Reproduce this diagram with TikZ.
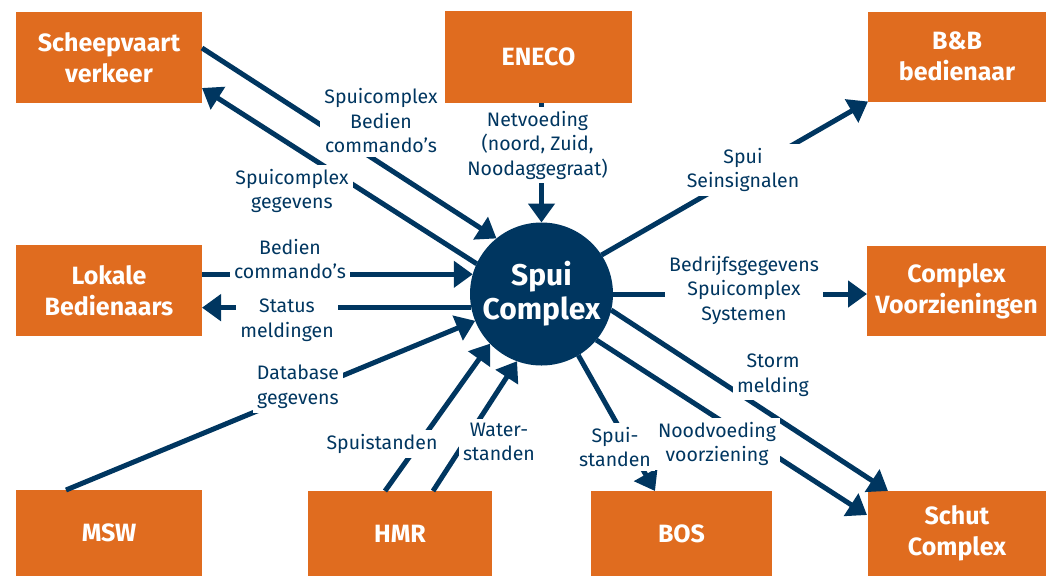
\documentclass[tikz,border=0pt]{standalone}
\usepackage{fontspec}
\setmainfont{Fira Sans}
\usetikzlibrary{arrows.meta,calc}
\definecolor{orng}{HTML}{E06C1F}
\definecolor{navy}{HTML}{003660}
\begin{document}
\begin{tikzpicture}[x=1pt,y=-1pt,
  box/.style={fill=orng, text=white, font=\fontsize{25}{31}\selectfont\bfseries, align=center, inner sep=0pt, outer sep=0pt},
  lbl/.style={fill=white, text=navy, font=\fontsize{19.5}{24.5}\selectfont, align=center, inner sep=4pt},
  arr/.style={draw=navy, line width=5pt, -{Triangle[length=19pt,width=26pt]}}]
\path[use as bounding box] (0,0) rectangle (1046,576);
% boxes
\node[box, minimum width=186pt, minimum height=91pt] (sv) at (109,57.5) {Scheepvaart\\verkeer};
\node[box, minimum width=187pt, minimum height=92pt] (eneco) at (538.5,57) {ENECO};
\node[box, minimum width=178pt, minimum height=90pt] (bb) at (957,56.5) {B\&B\\bedienaar};
\node[box, minimum width=186pt, minimum height=91pt] (lb) at (109,290.5) {Lokale\\Bedienaars};
\node[box, minimum width=179pt, minimum height=90pt] (cv) at (956.5,291) {Complex\\Voorzieningen};
\node[box, minimum width=186pt, minimum height=86pt] (msw) at (109,533) {MSW};
\node[box, minimum width=184pt, minimum height=85pt] (hmr) at (400,533.5) {HMR};
\node[box, minimum width=181pt, minimum height=85pt] (bos) at (681.5,533.5) {BOS};
\node[box, minimum width=178pt, minimum height=85pt] (sc) at (957,533.5) {Schut\\Complex};
% central circle
\node[circle, fill=navy, text=white, minimum size=143pt, inner sep=0pt, outer sep=0pt, align=center,
  font=\fontsize{30}{34}\selectfont\bfseries] (spui) at (541.5,294) {Spui\\Complex};
% connectors
\draw[arr] ($(sv.east)+(0,-9.5)$) -- (spui.129);
\draw[arr] (spui.155) -- ($(sv.east)+(0,30.5)$);
\draw[arr] (eneco.south -| spui.north) -- (spui.north);
\draw[arr] (spui.33) -- (bb.south west);
\draw[arr] (lb.east |- spui.164) -- (spui.164);
\draw[arr] (spui.191) -- (lb.east |- spui.191);
\draw[arr] ($(msw.north west)+(50,0)$) -- (spui.202);
\draw[arr] ($(hmr.north west)+(77,0)$) -- (spui.224);
\draw[arr] ($(hmr.north west)+(125,0)$) -- (spui.250);
\draw[arr] (spui.301) -- ($(bos.north west)+(64,0)$);
\draw[arr] (spui.320) -- ($(sc.north west)+(-1,24)$);
\draw[arr] (spui.347) -- ($(sc.north west)+(20,0)$);
\draw[arr] (spui.east) -- (cv.west |- spui.east);
% labels
\node[lbl] (l1) at (381,121) {Spuicomplex\\Bedien\\commando’s};
\node[lbl] (l2) at (292,191) {Spuicomplex\\gegevens};
\node[lbl] (l3) at (537.5,145) {Netvoeding\\(noord, Zuid,\\Noodaggegraat)};
\node[lbl] (l4) at (743,170) {Spui\\Seinsignalen};
\node[lbl] (l5) at (290,259) {Bedien\\commando’s};
\node[lbl] (l6) at (287,320) {Status\\meldingen};
\node[lbl] (l7) at (298,387) {Database\\gegevens};
\node[lbl] (l8) at (382,444) {Spuistanden};
\node[lbl] (l9) at (499,442) {Water-\\standen};
\node[lbl] (l10) at (615,447) {Spui-\\standen};
\node[lbl] (l11) at (717,444) {Noodvoeding\\voorziening};
\node[lbl] (l12) at (773,375) {Storm\\melding};
\node[lbl] (l13) at (744,290) {Bedrijfsgegevens\\Spuicomplex\\Systemen};
\end{tikzpicture}
\end{document}
